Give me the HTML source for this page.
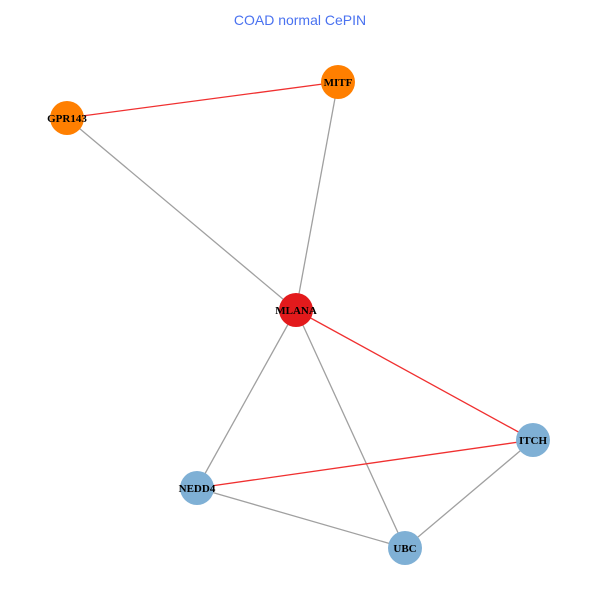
<!DOCTYPE html>
<html><head><style>body{margin:0;background:#fff}</style></head><body>
<svg width="600" height="600" xmlns="http://www.w3.org/2000/svg">
<rect width="600" height="600" fill="#fff"/>
<text x="300" y="25" text-anchor="middle" font-family="Liberation Sans, sans-serif" font-size="14" fill="#4a72f0">COAD normal CePIN</text>
<g stroke-width="1.3">
<line x1="67" y1="118" x2="296" y2="310" stroke="#a0a0a0"/>
<line x1="338" y1="82" x2="296" y2="310" stroke="#a0a0a0"/>
<line x1="296" y1="310" x2="197" y2="488" stroke="#a0a0a0"/>
<line x1="296" y1="310" x2="405" y2="548" stroke="#a0a0a0"/>
<line x1="197" y1="488" x2="405" y2="548" stroke="#a0a0a0"/>
<line x1="533" y1="440" x2="405" y2="548" stroke="#a0a0a0"/>
<line x1="67" y1="118" x2="338" y2="82" stroke="#f03030"/>
<line x1="296" y1="310" x2="533" y2="440" stroke="#f03030"/>
<line x1="197" y1="488" x2="533" y2="440" stroke="#f03030"/>
</g>
<g>
<circle cx="338" cy="82" r="17" fill="#ff7f00"/>
<circle cx="67" cy="118" r="17" fill="#ff7f00"/>
<circle cx="296" cy="310" r="17" fill="#e31a1c"/>
<circle cx="533" cy="440" r="17" fill="#7fb0d5"/>
<circle cx="197" cy="488" r="17" fill="#7fb0d5"/>
<circle cx="405" cy="548" r="17" fill="#7fb0d5"/>
</g>
<g font-family="Liberation Serif, serif" font-weight="bold" font-size="11" text-anchor="middle" fill="#000">
<text x="338" y="86">MITF</text>
<text x="67" y="122">GPR143</text>
<text x="296" y="314">MLANA</text>
<text x="533" y="444">ITCH</text>
<text x="197" y="492">NEDD4</text>
<text x="405" y="552">UBC</text>
</g>
</svg>
</body></html>
